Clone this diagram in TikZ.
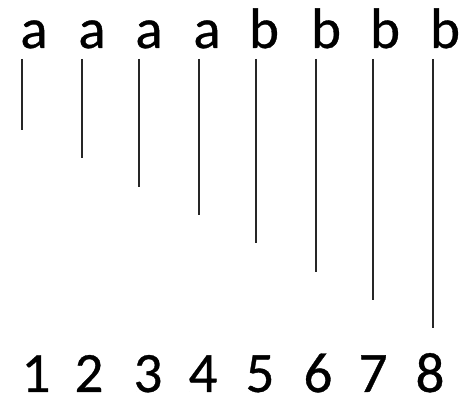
\documentclass[tikz,border=0pt]{standalone}
\usepackage{fontspec}
\setmainfont[FakeBold=0.6]{Carlito}
\begin{document}
\begin{tikzpicture}[x=1pt,y=1pt,
  lbl/.style={anchor=base,inner sep=0pt,font=\fontsize{57}{60}\selectfont},
  bar/.style={line width=1.8pt,draw=black!85}]
\useasboundingbox (0,0) rectangle (474,398);
\foreach \i/\lx/\tx/\nx/\ch/\bot in {1/22/34/36/a/268, 2/82/92/89/a/240, 3/139/149/148/a/211, 4/199/207/203/a/183, 5/256/264/260/b/155, 6/316/326/318/b/126, 7/373/385/373/b/98, 8/433/445/430/b/70}{
  \node[lbl] (top\i) at (\tx,350) {\ch};
  \node[lbl] (num\i) at (\nx,6) {\i};
  \coordinate (s\i) at (\lx,339);
  \coordinate (e\i) at (\lx,\bot);
  \draw[bar] (s\i) -- (e\i);
}
\end{tikzpicture}
\end{document}
